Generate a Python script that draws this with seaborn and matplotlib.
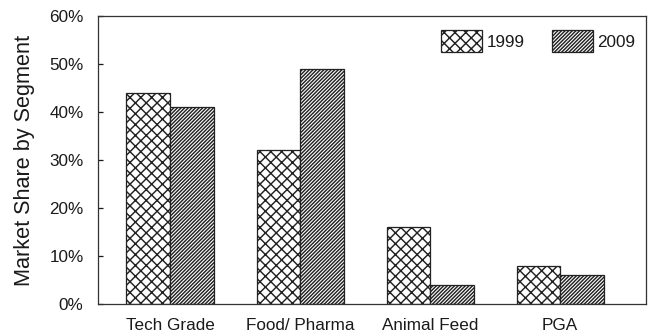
import pandas as pd
import seaborn as sns
import matplotlib.pyplot as plt
from matplotlib.ticker import PercentFormatter

# data
segments = ['Tech Grade', 'Food/ Pharma', 'Animal Feed', 'PGA']
years = ['1999', '2009']
share_1999 = [44, 32, 16, 8]
share_2009 = [41, 49, 4, 6]

df = pd.DataFrame({
    'Segment': segments * 2,
    'Year': [years[0]] * len(segments) + [years[1]] * len(segments),
    'Share': share_1999 + share_2009,
})

sns.set_theme(style='white')
plt.rcParams.update({
    'font.family': ['Liberation Sans', 'DejaVu Sans'],
    'hatch.linewidth': 0.8,
    'text.color': '#1a1a1a',
})

DPI = 130
fig = plt.figure(figsize=(649 / DPI, 336 / DPI), dpi=DPI)
ax = fig.add_axes([0.151, 0.0952, 0.8444, 0.8568])

sns.barplot(
    data=df, x='Segment', y='Share', hue='Year',
    order=segments, hue_order=years,
    width=0.67, legend=False, ax=ax,
)

hatches = {'1999': 'xxxx', '2009': '/' * 12}
for cont, yr in zip(ax.containers, years):
    for bar in cont:
        bar.set_facecolor('white')
        bar.set_edgecolor('#222222')
        bar.set_linewidth(0.7)
        bar.set_hatch(hatches[yr])

ax.set_ylim(0, 60)
ax.set_xlim(-0.554, 3.66)
ax.yaxis.set_major_formatter(PercentFormatter(decimals=0))
ax.set_yticks(range(0, 61, 10))

ax.set_xlabel('')
ax.set_ylabel('Market Share by Segment', fontsize=12, color='#1a1a1a', labelpad=8)

ax.tick_params(axis='y', direction='in', length=3, width=0.7, left=True,
               labelsize=9.5, pad=8, colors='#1a1a1a')
ax.tick_params(axis='x', length=0, labelsize=9.5, pad=8, colors='#1a1a1a')

for sp in ax.spines.values():
    sp.set_linewidth(0.7)
    sp.set_color('#333333')

ax.legend(
    ax.containers, years,
    loc='upper right', bbox_to_anchor=(0.993, 0.975),
    ncol=2, frameon=False, fontsize=9.5,
    handlelength=2.4, handleheight=1.55,
    handletextpad=0.25, columnspacing=1.6, borderaxespad=0,
)

fig.savefig('out.png', dpi=DPI)
plt.close(fig)
